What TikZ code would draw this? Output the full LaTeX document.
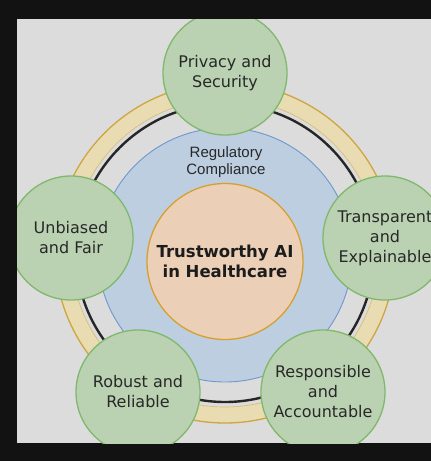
\documentclass[tikz,border=0pt]{standalone}
\usepackage{fontspec}
\setmainfont{DejaVu Sans}
\newfontfamily\arialfont{Liberation Sans}
\definecolor{bgcol}{RGB}{220,220,220}
\definecolor{greenfill}{RGB}{186,210,178}
\definecolor{greenline}{RGB}{128,184,108}
\definecolor{bluefill}{RGB}{188,206,224}
\definecolor{blueline}{RGB}{112,152,205}
\definecolor{peachfill}{RGB}{236,207,183}
\definecolor{peachline}{RGB}{214,160,48}
\definecolor{goldfill}{RGB}{233,219,178}
\definecolor{goldline}{RGB}{206,166,66}
\definecolor{txt}{RGB}{40,40,40}
\tikzset{
  sat/.style={circle, draw=greenline, fill=greenfill, line width=1.3pt,
    minimum size=124pt, inner sep=0pt, align=center, text=txt,
    font=\fontsize{16}{20}\selectfont},
  core/.style={circle, draw=peachline, fill=peachfill, line width=1.3pt,
    minimum size=156pt, inner sep=0pt, align=center, text=txt!70!black,
    font=\bfseries\fontsize{16.5}{20.5}\selectfont},
  regcircle/.style={circle, draw=blueline, fill=bluefill, line width=0.9pt,
    minimum size=254pt, inner sep=0pt},
  reglabel/.style={align=center, text=txt, inner sep=0pt,
    font=\arialfont\fontsize{15}{17}\selectfont}
}
\begin{document}
\begin{tikzpicture}[x=1pt,y=-1pt]
\useasboundingbox (0,0) rectangle (431,461);
\fill[black!93] (0,0) rectangle (431,461);
\begin{scope}
\clip (17,19) rectangle (431,443);
\fill[bgcol] (17,19) rectangle (431,443);
% outer gold band
\fill[goldfill, even odd rule] (225,253) circle (170pt) (225,253) circle (154pt);
\draw[goldline, line width=1.3pt] (225,253) circle (170pt);
\draw[goldline!60!goldfill, line width=0.6pt] (225,253) circle (154pt);
% black ring
\draw[black!85, line width=2.4pt] (225,253) circle (149pt);
% regulatory compliance circle
\node[regcircle] (reg) at (225,255) {};
\node[reglabel] (reglbl) at (226,162) {Regulatory\\Compliance};
% satellites
\node[sat] (privacy) at (225,73) {Privacy and\\Security};
\node[sat] (unbiased) at (71,238) {Unbiased\\and Fair};
\node[sat] (transparent) at (385,238) {Transparent\\and\\Explainable};
\node[sat] (robust) at (138,392) {Robust and\\Reliable};
\node[sat] (responsible) at (323,392) {Responsible\\and\\Accountable};
% core
\node[core] (core) at (225,261.5) {Trustworthy AI\\in Healthcare};
\end{scope}
\end{tikzpicture}
\end{document}
